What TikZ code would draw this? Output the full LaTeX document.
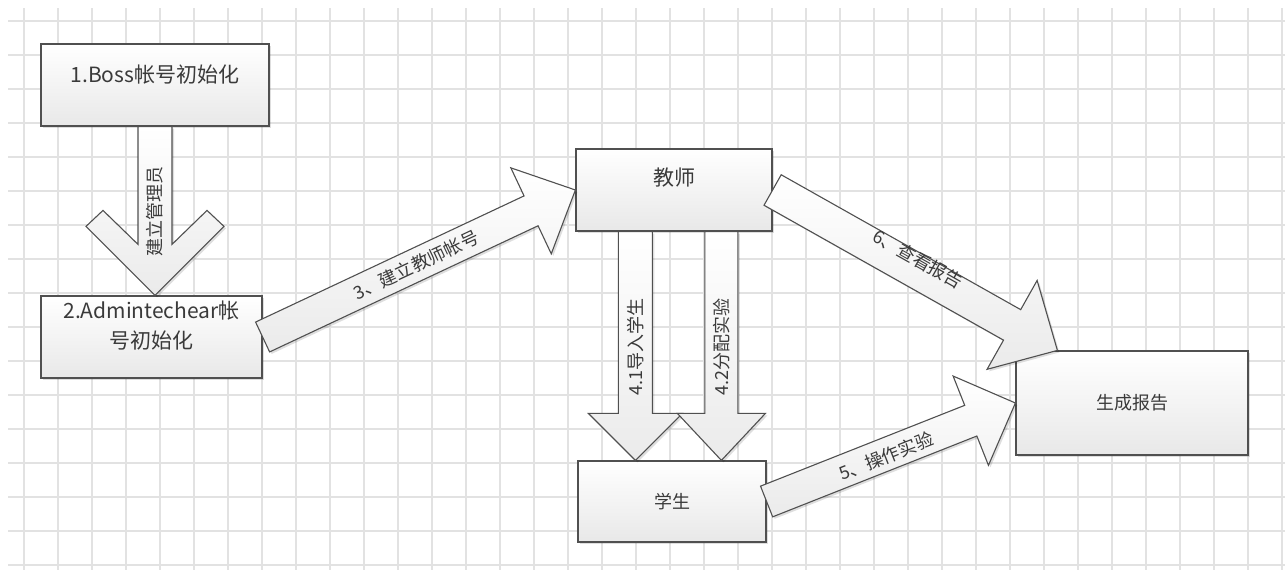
\documentclass[tikz,border=0pt]{standalone}
\usepackage{fontspec}
\newfontfamily\cjk{Noto Sans CJK SC}
\usetikzlibrary{calc,shadows}
\definecolor{gridc}{HTML}{E2E2E2}
\definecolor{edgec}{HTML}{505050}
\definecolor{txtc}{HTML}{3A3A3A}
\newcommand\blockarr[5]{% start, end, shaft half width, head half width, head length
  \coordinate (tmpj) at ($(#2)!#5!(#1)$);
  \draw[arrowsty] ($(#1)!#3!90:(#2)$) -- ($(tmpj)!#3!90:(#2)$) -- ($(tmpj)!#4!90:(#2)$) -- (#2)
    -- ($(tmpj)!#4!-90:(#2)$) -- ($(tmpj)!#3!-90:(#2)$) -- ($(#1)!#3!-90:(#2)$) -- cycle;
}
\begin{document}
\begin{tikzpicture}[x=1pt,y=-1pt,
  gridline/.style={draw=gridc,line width=1.4pt},
  shadowed/.style={drop shadow={shadow xshift=2pt,shadow yshift=-2pt,fill=black,opacity=0.13}},
  box/.style={rectangle,draw=edgec,line width=1.2pt,top color=white,bottom color=black!9,inner sep=0pt,shadowed},
  arrowsty/.style={draw=edgec,line width=1.1pt,line join=miter,top color=white,bottom color=black!8,shadowed},
  boxtext/.style={text=txtc,inner sep=0pt,align=center},
  lbl/.style={text=txtc,inner sep=0pt,font=\cjk\fontsize{18}{18}\selectfont}]
\useasboundingbox (0,0) rectangle (1285,570);
\fill[white] (0,0) rectangle (1285,570);
% grid
\foreach \k in {0,...,37} \draw[gridline] ({24+34*\k},8) -- ({24+34*\k},570);
\foreach \k in {0,...,16} \draw[gridline] (8,{21+34*\k}) -- (1285,{21+34*\k});
% boxes
\node[box,minimum width=228pt,minimum height=82pt] (b1) at (155,85) {};
\node[box,minimum width=221pt,minimum height=82pt] (b2) at (151.5,337) {};
\node[box,minimum width=196pt,minimum height=82pt] (t) at (674,190) {};
\node[box,minimum width=188pt,minimum height=81pt] (s) at (672,501.5) {};
\node[box,minimum width=232pt,minimum height=104pt] (r) at (1132,403) {};
\node[boxtext,font=\cjk\fontsize{21}{30}\selectfont] (b1l) at ($(b1)+(0,-10)$) {1.Boss帐号初始化};
\node[boxtext,font=\cjk\fontsize{21}{30}\selectfont] (b2l) at ($(b2)+(0,-11)$) {2.Admintechear帐\\号初始化};
\node[boxtext,font=\cjk\fontsize{21}{21}\selectfont] (tl) at ($(t)+(0,-12)$) {教师};
\node[boxtext,font=\cjk\fontsize{18}{18}\selectfont] (sl) at (s) {学生};
\node[boxtext,font=\cjk\fontsize{18}{18}\selectfont] (rl) at (r) {生成报告};
% connector end points
\coordinate (a1s) at (b1.south);
\coordinate (a1e) at (b2.north -| b1.south);
\coordinate (a41s) at ($(t.south west)+(60,0)$);
\coordinate (a41e) at (a41s |- s.north);
\coordinate (a42s) at ($(t.south west)+(146,0)$);
\coordinate (a42e) at (a42s |- s.north);
\coordinate (r6) at ($(r.north west)+(42,0)$);
% arrow 1 (chevron head)
\draw[arrowsty] ($(a1s)+(-17,0)$) -- ($(a1e)+(-17,-51)$) -- ($(a1e)+(-52,-85)$) -- ($(a1e)+(-69,-69)$) -- (a1e)
  -- ($(a1e)+(69,-69)$) -- ($(a1e)+(52,-85)$) -- ($(a1e)+(17,-51)$) -- ($(a1s)+(17,0)$) -- cycle;
\node[lbl,rotate=90] (l1) at ($(a1s)!0.5!(a1e)+(0,0)$) {建立管理员};
% arrow 3
\blockarr{b2.east}{t.west}{16.5pt}{47.5pt}{49pt}
\node[lbl,rotate=25.1] (l3) at ($(b2.east)!0.49!(t.west)$) {3、建立教师帐号};
% arrows 4.1 / 4.2
\blockarr{a41s}{a41e}{17pt}{47pt}{47pt}
\blockarr{a42s}{a42e}{16.5pt}{44pt}{47pt}
\node[lbl,rotate=90] (l41) at ($(a41s)+(0,115)$) {4.1导入学生};
\node[lbl,rotate=90] (l42) at ($(a42s)+(0,115)$) {4.2分配实验};
% arrow 6
\blockarr{t.east}{r6}{17.5pt}{51pt}{52pt}
\node[lbl,rotate=-29.4] (l6) at ($($(t.east)!0.5!(r6)$)+(3,-11)$) {6、查看报告};
% arrow 5
\blockarr{s.east}{r.west}{16.5pt}{48pt}{48pt}
\node[lbl,rotate=21.5] (l5) at ($(s.east)!0.48!(r.west)+(0,2)$) {5、操作实验};
\end{tikzpicture}
\end{document}
